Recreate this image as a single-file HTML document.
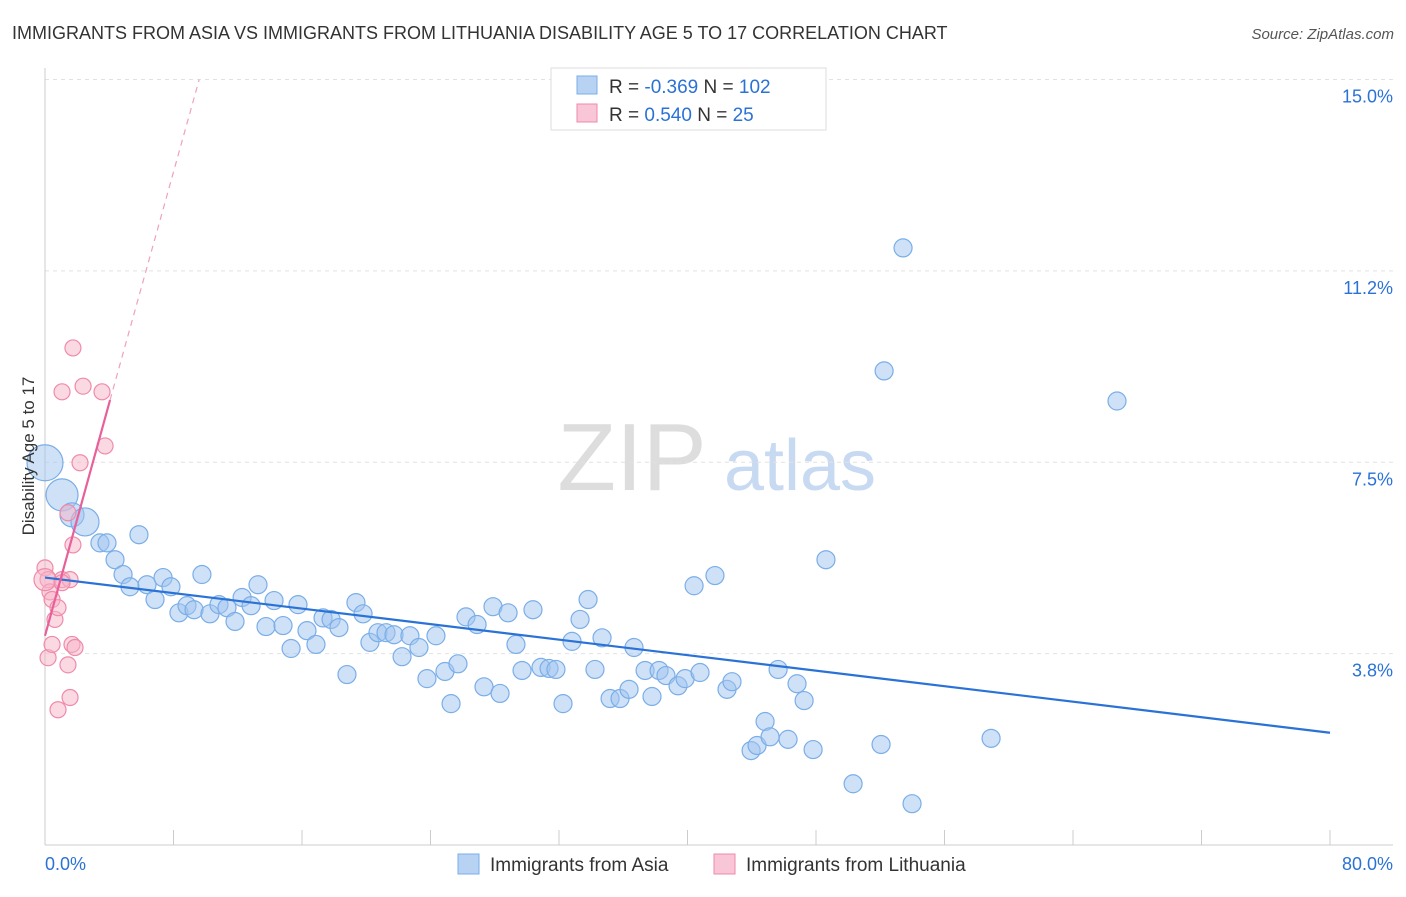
<!DOCTYPE html>
<html><head><meta charset="utf-8"><style>
body{margin:0;background:#fff;font-family:"Liberation Sans",sans-serif;}
svg text{font-family:"Liberation Sans",sans-serif;}
</style></head><body>
<svg id="chart" width="1406" height="892" xmlns="http://www.w3.org/2000/svg">
<text x="12" y="39" font-size="18" fill="#333">IMMIGRANTS FROM ASIA VS IMMIGRANTS FROM LITHUANIA DISABILITY AGE 5 TO 17 CORRELATION CHART</text>
<text x="1394" y="39" font-size="15" fill="#555" text-anchor="end" font-style="italic">Source: ZipAtlas.com</text>
<g>
<text x="632" y="490" font-size="96" fill="#ddd" font-family="Liberation Serif" text-anchor="middle">ZIP</text>
<text x="800" y="490" font-size="72" fill="#c8daf2" text-anchor="middle">atlas</text>
</g>
<g id="grid"></g>
<g id="axes"></g>
<g id="pts"></g>
<g id="lines"></g>
<text transform="translate(34,456) rotate(-90)" font-size="17" fill="#333" text-anchor="middle">Disability Age 5 to 17</text>
<g>
<rect x="551" y="68" width="275" height="62" fill="#fff" stroke="#ddd"/>
<rect x="577" y="76" width="20" height="18" fill="#b8d2f4" stroke="#7aaee8"/>
<rect x="577" y="104" width="20" height="18" fill="#f8c6d6" stroke="#f08aaa"/>
<text x="609" y="93" font-size="19" fill="#333">R = <tspan fill="#2a72d6">-0.369</tspan>   N = <tspan fill="#2a72d6">102</tspan></text>
<text x="609" y="121" font-size="19" fill="#333">R = <tspan fill="#2a72d6"> 0.540</tspan>   N = <tspan fill="#2a72d6">  25</tspan></text>
</g>
<g>
<rect x="458" y="854" width="21" height="20" fill="#b8d2f4" stroke="#7aaee8"/>
<text x="490" y="871" font-size="19" fill="#333">Immigrants from Asia</text>
<rect x="714" y="854" width="21" height="20" fill="#f8c6d6" stroke="#f08aaa"/>
<text x="746" y="871" font-size="19" fill="#333">Immigrants from Lithuania</text>
</g>
</svg>
<script>
const yTicks=[3.75,7.5,11.25,15];
const yTickLabels=["3.8%","7.5%","11.2%","15.0%"];
const xTicks=[0,8,16,24,32,40,48,56,64,72,80];
const xTickLabels=["0.0%","80.0%"];
const asiaX=[0,1.06,1.68,2.49,3.42,3.86,4.36,4.86,5.29,5.85,6.35,6.85,7.35,7.84,8.34,8.84,9.28,9.77,10.27,10.83,11.33,11.83,12.27,12.83,13.26,13.76,14.26,14.82,15.32,15.75,16.31,16.87,17.31,17.81,18.30,18.80,19.36,19.80,20.23,20.73,21.23,21.73,22.23,22.72,23.28,23.78,24.34,24.90,25.28,25.71,26.21,26.90,27.33,27.89,28.33,28.83,29.32,29.70,30.38,30.88,31.38,31.81,32.25,32.81,33.31,33.81,34.24,34.68,35.18,35.80,36.36,36.67,37.36,37.79,38.23,38.66,39.41,39.85,40.41,40.78,41.71,42.46,42.77,43.96,44.33,44.83,45.14,45.64,46.26,46.82,47.26,47.82,48.62,50.31,52.05,52.24,53.42,53.98,58.90,66.74];
const asiaY=[7.49,6.86,6.47,6.33,5.92,5.92,5.59,5.30,5.06,6.08,5.10,4.81,5.24,5.06,4.55,4.69,4.61,5.30,4.53,4.71,4.65,4.38,4.85,4.69,5.10,4.28,4.79,4.30,3.85,4.71,4.20,3.93,4.45,4.42,4.26,3.34,4.75,4.53,3.97,4.16,4.16,4.12,3.69,4.10,3.87,3.26,4.10,3.40,2.77,3.55,4.47,4.32,3.10,4.67,2.97,4.55,3.93,3.42,4.61,3.48,3.46,3.44,2.77,3.99,4.42,4.81,3.44,4.06,2.87,2.87,3.05,3.87,3.42,2.91,3.42,3.32,3.12,3.26,5.08,3.38,5.28,3.05,3.20,1.85,1.95,2.42,2.12,3.44,2.07,3.16,2.83,1.87,5.59,1.20,1.97,9.29,11.70,0.81,2.09,8.70];
const asiaR=[18,16,12,14];
const lithX=[0,0.19,0.31,0.44,0.62,0.81,1.06,0.19,0.44,0.81,1.43,1.56,1.68,1.87,1.56,1.74,1.43,2.18,2.37,3.55,3.74,1.06,1.74,0,1.06];
const lithY=[5.43,5.20,4.96,4.81,4.42,4.65,5.20,3.67,3.93,2.65,3.53,2.89,3.93,3.87,5.20,5.88,6.51,7.49,8.99,8.88,7.82,8.88,9.74,5.2,5.14];
const asiaTrend=[[0,5.24],[80,2.20]];
const lithTrend=[[0,4.10],[4.05,8.72]];
const lithDash=[[4.05,8.72],[9.6,15]];
const NS="http://www.w3.org/2000/svg";
const X=v=>45+v/80*1285, Y=v=>845-v/15*765.5;
function mk(tag,attrs,parent){const e=document.createElementNS(NS,tag);for(const k in attrs)e.setAttribute(k,attrs[k]);document.getElementById(parent).appendChild(e);return e;}
yTicks.forEach((t,i)=>{
 const g=mk('line',{x1:45,x2:1393,y1:Y(t),y2:Y(t),stroke:'#e2e2e2','stroke-dasharray':'4,4'},'grid');
 
 
 const l=mk('text',{x:1393,y:Y(t)+23,'font-size':18,fill:'#2a72d6','text-anchor':'end'},'axes');l.textContent=yTickLabels[i];
 
 
});
const ax=mk('line',{x1:45,x2:45,y1:68,y2:845,stroke:'#ccc'},'axes');


const bx=mk('line',{x1:45,x2:1393,y1:845,y2:845,stroke:'#ccc'},'axes');


xTicks.forEach(t=>{const e=mk('line',{x1:X(t),x2:X(t),y1:830,y2:845,stroke:'#ccc'},'axes');
 
 });
const xl0=mk('text',{x:45,y:870,'font-size':18,fill:'#2a72d6'},'axes');xl0.textContent=xTickLabels[0];


const xl1=mk('text',{x:1393,y:870,'font-size':18,fill:'#2a72d6','text-anchor':'end'},'axes');xl1.textContent=xTickLabels[1];


asiaX.forEach((v,i)=>{const c=mk('circle',{cx:X(v),cy:Y(asiaY[i]),r:asiaR[i]||9,fill:'rgba(160,196,240,0.5)',stroke:'#7aaee8','stroke-width':1.2},'pts');
 
 });
lithX.forEach((v,i)=>{const c=mk('circle',{cx:X(v),cy:Y(lithY[i]),r:i==23?11:8,fill:'rgba(245,180,200,0.5)',stroke:'#f08aaa','stroke-width':1.2},'pts');
 
 });
const a=mk('line',{x1:X(asiaTrend[0][0]),y1:Y(asiaTrend[0][1]),x2:X(asiaTrend[1][0]),y2:Y(asiaTrend[1][1]),stroke:'#2a72d6','stroke-width':2.2},'lines');


const p=mk('line',{x1:X(lithTrend[0][0]),y1:Y(lithTrend[0][1]),x2:X(lithTrend[1][0]),y2:Y(lithTrend[1][1]),stroke:'#e8609a','stroke-width':2.2},'lines');


const pd=mk('line',{x1:X(lithDash[0][0]),y1:Y(lithDash[0][1]),x2:X(lithDash[1][0]),y2:Y(lithDash[1][1]),stroke:'#f0a0bd','stroke-width':1.2,'stroke-dasharray':'6,5'},'lines');


</script>
</body></html>
